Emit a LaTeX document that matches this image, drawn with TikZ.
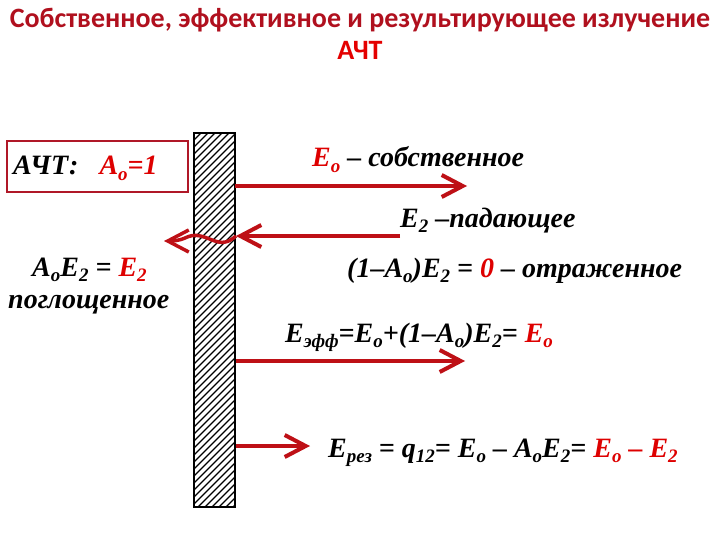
\documentclass[tikz,border=0pt]{standalone}
\usepackage{fontspec}
\setmainfont{Liberation Serif}
\newfontfamily\titlefont{Carlito}
\usetikzlibrary{arrows.meta}
\definecolor{darkred}{RGB}{190,16,22}
\definecolor{boxred}{RGB}{176,24,40}
\definecolor{titlered}{RGB}{176,16,30}
\definecolor{brightred}{RGB}{228,0,0}
\definecolor{txtred}{RGB}{222,0,0}
\newcommand\sbs[1]{\raisebox{-5.5pt}{\fontsize{19}{19}\selectfont #1}}
\newcommand\rd[1]{\textcolor{txtred}{#1}}
\begin{document}
\begin{tikzpicture}[x=1pt,y=-1pt,
  lbl/.style={anchor=base west, inner sep=0pt, font=\fontsize{28}{28}\selectfont\bfseries\itshape},
  titletxt/.style={anchor=base, inner sep=0pt, font=\titlefont\bfseries\fontsize{28}{32}\selectfont},
  ray/.style={draw=darkred, line width=4pt, -{Straight Barb[length=21pt,width=22pt]}}
]
\useasboundingbox[fill=white] (0,0) rectangle (720,540);

% title
\node[titletxt, text=titlered] (title1) at (360,28) {Собственное, эффективное и результирующее излучение};
\node[titletxt, text=brightred] (title2) at (360,60) {АЧТ};

% wall
\begin{scope}
\clip (194,133) rectangle (235,507);
\foreach \i in {0,...,66} \draw[line width=1.4pt] (190,130+\i*7) -- ++(50,-50);
\end{scope}
\draw[line width=1.5pt] (194,133) rectangle (235,507);
\draw[line width=2.5pt] (235,133) -- (235,507);

% box
\node[draw=boxred, line width=2pt, minimum width=181pt, minimum height=51pt, anchor=north west, inner sep=0pt] (box) at (6,140) {};
\node[lbl] (boxtxt) at (13,175) {АЧТ:\ \ \ \rd{A\sbs{o}=1}};

% coordinates
\coordinate (a1s) at (235,186); \coordinate (a1e) at (467,186);
\coordinate (a2s) at (400,236); \coordinate (a2e) at (236,236);
\coordinate (a2w) at (164,241);
\coordinate (a3s) at (236,361); \coordinate (a3e) at (465,361);
\coordinate (a4s) at (236,446); \coordinate (a4e) at (310,446);

% arrows
\draw[ray] (a1s) -- (a1e);
\draw[ray] (a2s) -- (a2e);
\draw[ray, line width=3.5pt] (a2e) .. controls (228,243) and (222,244) .. (212,240)
   .. controls (202,236) and (195,233) .. (185,238) .. controls (178,241) and (172,241) .. (a2w);
\draw[ray] (a3s) -- (a3e);
\draw[ray] (a4s) -- (a4e);

% labels
\node[lbl] (t1) at (312,167) {\rd{E\sbs{o}} – собственное};
\node[lbl] (t2) at (400,227) {E\sbs{2} –падающее};
\node[lbl] (t3) at (347,277) {(1–A\sbs{o})E\sbs{2} = \rd{0} – отраженное};
\node[lbl] (t4) at (32,276) {A\sbs{o}E\sbs{2} = \rd{E\sbs{2}}};
\node[lbl] (t5) at (8,308) {поглощенное};
\node[lbl] (t6) at (285,342) {E\sbs{эфф}=E\sbs{o}+(1–A\sbs{o})E\sbs{2}= \rd{E\sbs{o}}};
\node[lbl] (t7) at (328,457) {E\sbs{рез} = q\sbs{12}= E\sbs{o} – A\sbs{o}E\sbs{2}= \rd{E\sbs{o} – E\sbs{2}}};
\end{tikzpicture}
\end{document}
